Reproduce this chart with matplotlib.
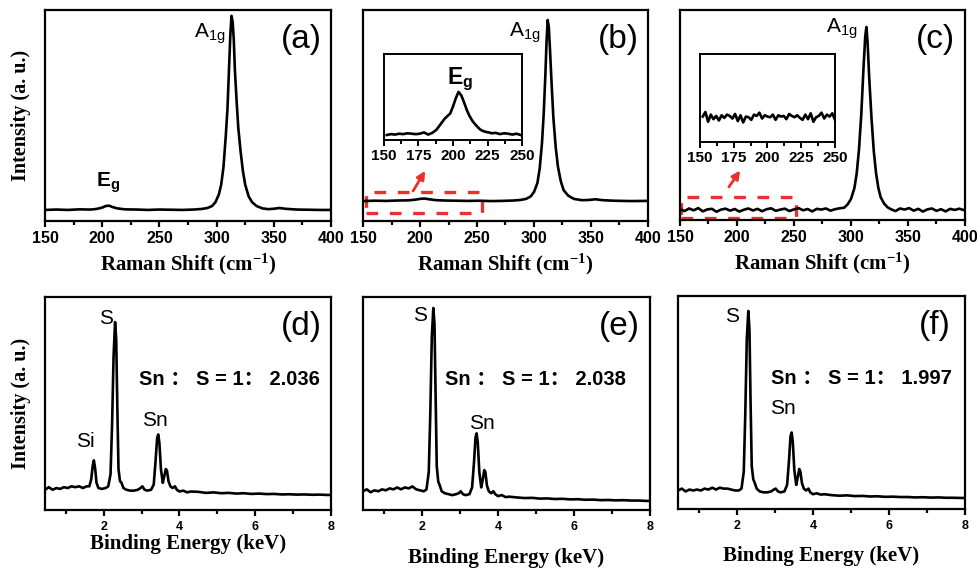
import matplotlib
matplotlib.use("Agg")
import matplotlib.pyplot as plt
from matplotlib.patches import Rectangle, FancyArrowPatch

plt.rcParams['font.family'] = ['Liberation Sans', 'DejaVu Sans']
plt.rcParams['mathtext.default'] = 'regular'

# ---------------- data ----------------
raman_a_x = [150, 160, 170, 180, 190, 195, 200, 203, 206, 209, 213, 220, 230, 240, 250, 260, 270, 280, 287,
             292, 296, 299, 302, 304, 306, 308, 309.5, 311, 312, 313, 314, 315, 316, 317.5, 319, 321, 323,
             325, 328, 331, 335, 340, 345, 350, 355, 360, 370, 380, 390, 400]
raman_a_y = [0.0, 0.002, 0.0, 0.003, 0.002, 0.005, 0.012, 0.02, 0.022, 0.015, 0.008, 0.003, 0.002, 0.0, 0.002,
             0.001, 0.0, 0.002, 0.005, 0.01, 0.02, 0.04, 0.08, 0.13, 0.22, 0.38, 0.52, 0.75, 0.9, 1.0, 0.97,
             0.88, 0.72, 0.56, 0.42, 0.3, 0.2, 0.13, 0.07, 0.04, 0.02, 0.008, 0.004, 0.006, 0.01, 0.006,
             0.002, 0.001, 0.0, 0.0]

raman_b_x = [150, 160, 170, 180, 190, 196, 200, 204, 208, 214, 222, 232, 242, 252, 262, 272, 282, 288, 293,
             297, 300, 303, 305, 307, 308.5, 310, 311, 312, 313, 314, 315.5, 317, 319, 321, 323.5, 326, 330,
             335, 342, 348, 354, 360, 370, 385, 400]
raman_b_y = [0.0, 0.002, 0.001, 0.003, 0.004, 0.008, 0.012, 0.014, 0.01, 0.005, 0.003, 0.002, 0.001, 0.002,
             0.0, 0.001, 0.003, 0.006, 0.012, 0.025, 0.05, 0.1, 0.18, 0.32, 0.48, 0.7, 0.88, 1.0, 0.96, 0.84,
             0.64, 0.46, 0.3, 0.19, 0.11, 0.06, 0.03, 0.012, 0.005, 0.006, 0.01, 0.005, 0.002, 0.0, 0.001]

raman_c_x = [150, 154, 158, 162, 166, 170, 174, 178, 182, 186, 190, 194, 198, 202, 206, 210, 214, 218, 222,
             226, 230, 234, 238, 242, 246, 250, 254, 258, 262, 266, 270, 274, 278, 282, 286, 290, 294,
             297, 300, 303, 305, 307, 309, 311, 312.5, 313.5, 314.5, 316, 318, 320, 322, 324, 326, 329, 332,
             335, 339, 343, 347, 351, 355, 359, 363, 367, 371, 375, 379, 383, 387, 391, 395, 400]
raman_c_y = [0.004, -0.006, 0.008, -0.002, 0.01, -0.008, 0.003, 0.006, -0.01, 0.002, 0.007, -0.004, 0.005,
             -0.009, 0.001, 0.008, -0.003, 0.006, -0.007, 0.004, 0.009, -0.005, 0.002, 0.007, -0.006, 0.003,
             0.01, -0.002, 0.005, -0.008, 0.006, 0.002, 0.008, -0.004, 0.004, 0.009, 0.012,
             0.03, 0.06, 0.12, 0.2, 0.33, 0.52, 0.78, 0.95, 1.0, 0.92, 0.72, 0.5, 0.32, 0.2, 0.12, 0.07, 0.035,
             0.015, 0.004, -0.006, 0.008, 0.002, 0.01, -0.004, 0.006, -0.009, 0.003, 0.008, -0.005, 0.004,
             -0.008, 0.006, 0.0, 0.007, -0.003]

inset_b_x = [152, 155, 158, 161, 164, 167, 170, 173, 176, 179, 182, 185, 188, 191, 194, 196, 198, 200, 202,
             204, 206, 208, 210, 212, 214, 216, 218, 220, 222, 224, 226, 228, 231, 234, 237, 240, 243, 246, 249]
inset_b_y = [0.0, 0.02, 0.01, 0.03, 0.02, 0.04, 0.03, 0.02, 0.03, 0.06, 0.01, 0.05, 0.12, 0.25, 0.38, 0.44,
             0.5, 0.66, 0.85, 1.0, 0.92, 0.76, 0.58, 0.44, 0.33, 0.25, 0.18, 0.12, 0.09, 0.07, 0.06, 0.04,
             0.05, 0.02, 0.04, 0.03, 0.01, 0.03, 0.0]

inset_c_x = [152, 154, 156, 158, 160, 162, 164, 166, 168, 170, 172, 174, 176, 178, 180, 182, 184, 186, 188,
             190, 192, 194, 196, 198, 200, 202, 204, 206, 208, 210, 212, 214, 216, 218, 220, 222, 224, 226,
             228, 230, 232, 234, 236, 238, 240, 242, 244, 246, 248, 250]
inset_c_y = [0.02, 0.09, -0.06, 0.05, -0.02, 0.03, -0.04, 0.04, 0.0, 0.05, 0.03, -0.01, 0.06, -0.05, 0.04,
             -0.07, 0.02, 0.01, -0.03, 0.05, 0.03, 0.08, -0.01, 0.04, 0.02, 0.01, 0.05, -0.03, 0.04, 0.02,
             0.03, -0.02, 0.06, 0.03, 0.01, 0.04, 0.0, -0.03, 0.05, -0.02, 0.07, -0.06, 0.01, 0.03, 0.08,
             -0.01, 0.05, 0.02, 0.07, -0.03]

eds_d_x = [0.45, 0.55, 0.65, 0.75, 0.85, 0.95, 1.05, 1.15, 1.25, 1.35, 1.45, 1.55, 1.62, 1.67, 1.71, 1.74,
           1.77, 1.81, 1.86, 1.95, 2.05, 2.12, 2.18, 2.22, 2.26, 2.30, 2.33, 2.36, 2.39, 2.43, 2.47, 2.52,
           2.6, 2.7, 2.8, 2.9, 2.97, 3.02, 3.08, 3.15, 3.25, 3.32, 3.37, 3.41, 3.44, 3.47, 3.51, 3.56, 3.6,
           3.64, 3.67, 3.71, 3.76, 3.82, 3.88, 3.93, 4.0, 4.1, 4.2, 4.3, 4.5, 4.7, 4.9, 5.1, 5.3, 5.5, 5.7,
           5.9, 6.1, 6.3, 6.5, 6.7, 6.9, 7.1, 7.3, 7.5, 7.7, 7.9, 8.0]
eds_d_y = [0.03, 0.045, 0.03, 0.04, 0.035, 0.045, 0.04, 0.05, 0.045, 0.05, 0.04, 0.05, 0.05, 0.09, 0.17,
           0.20, 0.16, 0.07, 0.04, 0.035, 0.04, 0.05, 0.12, 0.4, 0.8, 1.0, 0.9, 0.5, 0.15, 0.08, 0.07, 0.04,
           0.03, 0.025, 0.025, 0.03, 0.04, 0.05, 0.03, 0.025, 0.03, 0.06, 0.2, 0.33, 0.35, 0.3, 0.15, 0.07,
           0.11, 0.15, 0.14, 0.08, 0.05, 0.04, 0.05, 0.03, 0.02, 0.025, 0.015, 0.02, 0.018, 0.012, 0.015,
           0.01, 0.012, 0.008, 0.01, 0.006, 0.008, 0.005, 0.006, 0.003, 0.004, 0.002, 0.003, 0.001, 0.002,
           0.0, 0.0]

eds_e_x = [0.45, 0.55, 0.65, 0.75, 0.85, 0.95, 1.05, 1.15, 1.25, 1.35, 1.45, 1.55, 1.65, 1.75, 1.85, 1.95,
           2.05, 2.12, 2.18, 2.22, 2.26, 2.30, 2.33, 2.36, 2.39, 2.43, 2.47, 2.52, 2.6, 2.7, 2.8, 2.9, 2.97,
           3.02, 3.08, 3.15, 3.25, 3.32, 3.37, 3.41, 3.44, 3.47, 3.51, 3.56, 3.6, 3.64, 3.67, 3.71, 3.76,
           3.82, 3.88, 3.93, 4.0, 4.1, 4.2, 4.3, 4.5, 4.7, 4.9, 5.1, 5.3, 5.5, 5.7, 5.9, 6.1, 6.3, 6.5, 6.7,
           6.9, 7.1, 7.3, 7.5, 7.7, 7.9, 8.0]
eds_e_y = [0.05, 0.06, 0.045, 0.055, 0.05, 0.06, 0.055, 0.065, 0.06, 0.07, 0.06, 0.07, 0.065, 0.075, 0.06,
           0.055, 0.05, 0.06, 0.15, 0.45, 0.85, 1.0, 0.92, 0.55, 0.18, 0.1, 0.08, 0.05, 0.04, 0.035, 0.03,
           0.035, 0.04, 0.05, 0.035, 0.03, 0.035, 0.07, 0.2, 0.33, 0.35, 0.3, 0.15, 0.07, 0.11, 0.16, 0.15,
           0.08, 0.05, 0.04, 0.05, 0.035, 0.025, 0.03, 0.02, 0.022, 0.018, 0.015, 0.016, 0.012, 0.013, 0.01,
           0.011, 0.008, 0.009, 0.006, 0.007, 0.004, 0.005, 0.003, 0.004, 0.002, 0.002, 0.0, 0.0]

eds_f_x = eds_e_x
eds_f_y = [0.04, 0.05, 0.035, 0.045, 0.04, 0.045, 0.04, 0.05, 0.045, 0.055, 0.045, 0.055, 0.05, 0.05, 0.045,
           0.04, 0.04, 0.05, 0.14, 0.45, 0.85, 1.0, 0.9, 0.5, 0.17, 0.1, 0.08, 0.05, 0.035, 0.03, 0.03,
           0.035, 0.045, 0.05, 0.035, 0.03, 0.035, 0.07, 0.2, 0.33, 0.35, 0.3, 0.15, 0.07, 0.11, 0.155, 0.14,
           0.08, 0.05, 0.04, 0.05, 0.03, 0.02, 0.025, 0.018, 0.02, 0.015, 0.012, 0.014, 0.01, 0.011, 0.008,
           0.009, 0.006, 0.007, 0.005, 0.005, 0.003, 0.004, 0.002, 0.003, 0.001, 0.001, 0.0, 0.0]

raman_ticks = [150, 200, 250, 300, 350, 400]
inset_ticks = [150, 175, 200, 225, 250]
eds_ticks = [2, 4, 6, 8]
ratios = ["2.036", "2.038", "1.997"]

# ---------------- figure ----------------
fig = plt.figure(figsize=(9.78, 5.69), dpi=100)
W, H = 978, 569

def add_ax(x0, x1, y0, y1):
    return fig.add_axes([x0 / W, 1 - y1 / H, (x1 - x0) / W, (y1 - y0) / H])

def style(ax, ticks, minor, fs, lw=1.6, pad=3.5):
    for s in ax.spines.values():
        s.set_linewidth(lw)
    ax.set_yticks([])
    ax.set_xticks(ticks)
    ax.set_xticks(minor, minor=True)
    ax.tick_params(axis='x', which='major', direction='out', length=4, width=lw, labelsize=fs, pad=pad)
    ax.tick_params(axis='x', which='minor', direction='out', length=3, width=lw)
    for t in ax.get_xticklabels():
        t.set_fontweight('bold')

serif_bold = dict(family='Liberation Serif', fontweight='bold')
ratio_font = ['Liberation Sans', 'Noto Sans CJK SC']
LW = 1.9
LAB = 15  # peak labels

# Raman panels
axa = add_ax(45, 331, 10, 221)
axb = add_ax(363, 648, 10, 221)
axc = add_ax(680, 965, 10, 220)
raman_minor = [175, 225, 275, 325, 375]
for ax, x, y, yl, lab in [(axa, raman_a_x, raman_a_y, (-0.057, 1.03), '(a)'),
                          (axb, raman_b_x, raman_b_y, (-0.11, 1.055), '(b)'),
                          (axc, raman_c_x, raman_c_y, (-0.055, 1.093), '(c)')]:
    ax.plot(x, y, color='black', lw=LW)
    ax.set_xlim(150, 400)
    ax.set_ylim(*yl)
    style(ax, raman_ticks, raman_minor, 11.5)
    ax.set_xlabel('Raman Shift (cm$^{-1}$)', fontsize=15, labelpad=4, **serif_bold)
    ax.text(0.895, 0.86, lab, transform=ax.transAxes, fontsize=24, ha='center', va='center')

axa.text(294, 0.91, 'A$_{1g}$', fontsize=LAB, ha='center', va='center')
axa.text(205, 0.14, 'E$_g$', fontsize=LAB, fontweight='bold', ha='center', va='center')
axb.text(292, 0.93, 'A$_{1g}$', fontsize=LAB, ha='center', va='center')
axc.text(292, 0.99, 'A$_{1g}$', fontsize=LAB, ha='center', va='center')
axa.set_ylabel('Intensity (a. u.)', fontsize=14.5, labelpad=10, **serif_bold)

# red dashed boxes and arrows
red = '#e8322e'
axb.add_patch(Rectangle((153, -0.066), 101, 0.116, fill=False, edgecolor=red, lw=2.4,
                        linestyle=(0, (3.5, 3.5)), clip_on=False))
axc.add_patch(Rectangle((151, -0.045), 101, 0.118, fill=False, edgecolor=red, lw=2.4,
                        linestyle=(0, (3.5, 3.5)), clip_on=False))
axb.add_patch(FancyArrowPatch((192.7, 0.043), (205.8, 0.18), arrowstyle='-|>', mutation_scale=12,
                              color=red, lw=2))
axc.add_patch(FancyArrowPatch((191.5, 0.113), (204.1, 0.228), arrowstyle='-|>', mutation_scale=12,
                              color=red, lw=2))

# insets
insb = add_ax(384, 522, 54, 140)
insb.plot(inset_b_x, inset_b_y, color='black', lw=LW)
insb.set_xlim(150, 250)
insb.set_ylim(-0.116, 1.88)
style(insb, inset_ticks, [162.5, 187.5, 212.5, 237.5], 11, lw=1.4, pad=2.5)
insb.text(205, 1.3, 'E$_g$', fontsize=16.5, fontweight='bold', ha='center', va='center')

insc = add_ax(700, 835, 54, 142)
insc.plot(inset_c_x, inset_c_y, color='black', lw=LW)
insc.set_xlim(150, 250)
insc.set_ylim(-0.37, 0.98)
style(insc, inset_ticks, [162.5, 187.5, 212.5, 237.5], 11, lw=1.4, pad=2.5)

# EDS panels
axd = add_ax(45, 331, 297, 510)
axe = add_ax(363, 650, 297, 510)
axf = add_ax(678, 965, 296, 509)
eds_minor = [1, 3, 5, 7]
for ax, x, y, yl, lab, lp in [(axd, eds_d_x, eds_d_y, (-0.087, 1.145), '(d)', 1),
                              (axe, eds_e_x, eds_e_y, (-0.047, 1.057), '(e)', 11),
                              (axf, eds_f_x, eds_f_y, (-0.059, 1.08), '(f)', 10)]:
    ax.plot(x, y, color='black', lw=LW)
    ax.set_xlim(0.45, 8.0)
    ax.set_ylim(*yl)
    style(ax, eds_ticks, eds_minor, 9, pad=4)
    ax.set_xlabel('Binding Energy (keV)', fontsize=15, labelpad=lp, **serif_bold)
    ax.text(0.895, 0.86, lab, transform=ax.transAxes, fontsize=24, ha='center', va='center')

axd.set_ylabel('Intensity (a. u.)', fontsize=14.5, labelpad=10, **serif_bold)

ratio_fmt = 'Sn \uff1a S = 1\uff1a {}'
axd.text(2.05, 1.02, 'S', fontsize=LAB, ha='center', va='center')
axd.text(1.52, 0.31, 'Si', fontsize=LAB, ha='center', va='center')
axd.text(3.35, 0.43, 'Sn', fontsize=LAB, ha='center', va='center')
axd.text(2.93, 0.665, ratio_fmt.format(ratios[0]), fontsize=14.5, fontweight='bold',
         family=ratio_font, ha='left', va='center')

axe.text(1.95, 0.96, 'S', fontsize=LAB, ha='center', va='center')
axe.text(3.57, 0.40, 'Sn', fontsize=LAB, ha='center', va='center')
axe.text(2.60, 0.63, ratio_fmt.format(ratios[1]), fontsize=14.5, fontweight='bold',
         family=ratio_font, ha='left', va='center')

axf.text(1.87, 0.97, 'S', fontsize=LAB, ha='center', va='center')
axf.text(3.21, 0.476, 'Sn', fontsize=LAB, ha='center', va='center')
axf.text(2.90, 0.64, ratio_fmt.format(ratios[2]), fontsize=14.5, fontweight='bold',
         family=ratio_font, ha='left', va='center')

fig.savefig('out.png', dpi=100)
